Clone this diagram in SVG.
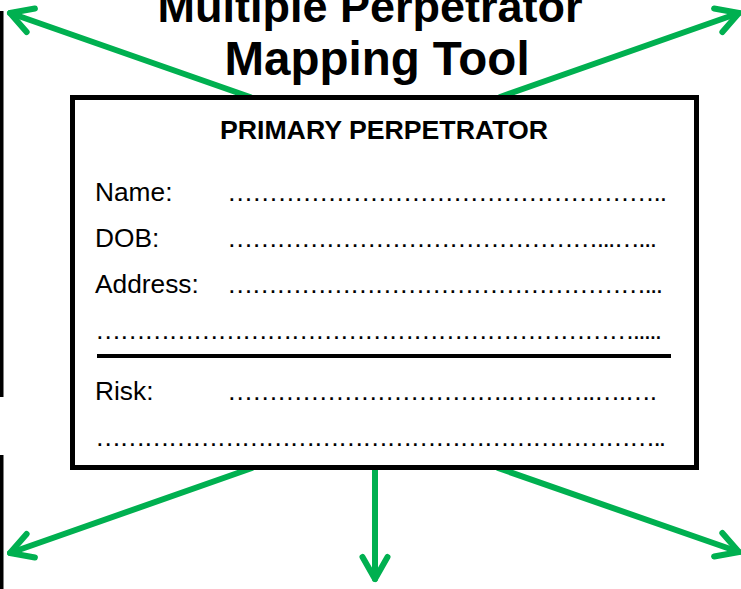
<svg xmlns="http://www.w3.org/2000/svg" width="741" height="589" viewBox="0 0 741 589">
<style>
.title{font-family:"Liberation Sans",Arial,sans-serif;font-weight:bold;fill:#000;text-anchor:middle}
.hdr{font-family:"Liberation Sans",Arial,sans-serif;font-weight:bold;font-size:26.7px;fill:#000;text-anchor:middle}
.lbl{font-family:"Liberation Sans",Arial,sans-serif;font-size:26.3px;fill:#000}
.arrow{stroke:#00B050;stroke-width:6;fill:none;stroke-linecap:round;marker-end:url(#ah)}
</style>
<defs>
<marker id="ah" markerUnits="userSpaceOnUse" orient="auto" markerWidth="40" markerHeight="40" viewBox="-30 -20 40 40" refX="0" refY="0" overflow="visible">
<path d="M-22,-12.5 L0,0 L-22,12.5" fill="none" stroke="#00B050" stroke-width="6" stroke-linecap="round" stroke-linejoin="round"/>
</marker>
</defs>
<rect width="741" height="589" fill="#fff"/>
<g id="edge-bars">
<rect x="0" y="11" width="3.5" height="386" fill="#000"/>
<rect x="0" y="455" width="3.5" height="134" fill="#000"/>
</g>
<g id="title">
<text class="title" x="370" y="22" font-size="45">Multiple Perpetrator</text>
<text class="title" x="377" y="75" font-size="47.5">Mapping Tool</text>
</g>
<g id="connectors">
<line class="arrow" x1="250" y1="97" x2="10" y2="13"/>
<line class="arrow" x1="500" y1="97" x2="739" y2="13"/>
<line class="arrow" x1="252" y1="468" x2="10" y2="553"/>
<line class="arrow" x1="498" y1="468" x2="739" y2="552"/>
<line class="arrow" x1="375" y1="470" x2="375" y2="579"/>
</g>
<g id="primary-perpetrator">
<rect x="72.5" y="97.5" width="624" height="370" fill="#fff" stroke="#000" stroke-width="5"/>
<text class="hdr" x="384" y="139">PRIMARY PERPETRATOR</text>
<text class="lbl" x="95" y="201">Name:</text>
<text class="lbl" x="227" y="201" textLength="440" lengthAdjust="spacing">……………………………………………..</text>
<text class="lbl" x="95" y="247">DOB:</text>
<text class="lbl" x="227" y="247" textLength="430" lengthAdjust="spacing">………………………………………...…...</text>
<text class="lbl" x="95" y="293">Address:</text>
<text class="lbl" x="227" y="293" textLength="436" lengthAdjust="spacing">……………………………………………...</text>
<text class="lbl" x="95" y="339" textLength="567" lengthAdjust="spacing">………………………………………………………….....</text>
<line x1="97" y1="356" x2="671" y2="356" stroke="#000" stroke-width="4"/>
<text class="lbl" x="95" y="400">Risk:</text>
<text class="lbl" x="227" y="400" textLength="430" lengthAdjust="spacing">…………………………….………..….….</text>
<text class="lbl" x="95" y="446" textLength="571" lengthAdjust="spacing">……………………………………………………………..</text>
</g>
</svg>
